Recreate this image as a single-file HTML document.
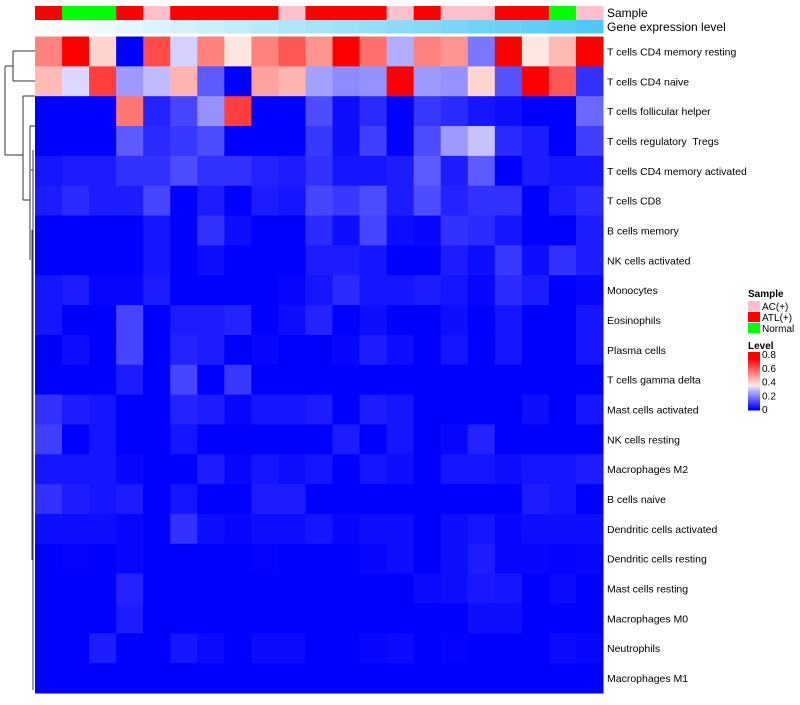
<!DOCTYPE html>
<html><head><meta charset="utf-8"><style>
body{margin:0;background:#fff;font-family:"Liberation Sans",sans-serif}
svg text{font-family:"Liberation Sans",sans-serif;white-space:pre}
</style></head><body>
<svg id="chart" width="800" height="700" xmlns="http://www.w3.org/2000/svg"></svg>
<script>
const rowLabels=["T cells CD4 memory resting","T cells CD4 naive","T cells follicular helper","T cells regulatory  Tregs","T cells CD4 memory activated","T cells CD8","B cells memory","NK cells activated","Monocytes","Eosinophils","Plasma cells","T cells gamma delta","Mast cells activated","NK cells resting","Macrophages M2","B cells naive","Dendritic cells activated","Dendritic cells resting","Mast cells resting","Macrophages M0","Neutrophils","Macrophages M1"];
const sampleGroups=["ATL","Normal","Normal","ATL","AC","ATL","ATL","ATL","ATL","AC","ATL","ATL","ATL","AC","ATL","AC","AC","ATL","ATL","Normal","AC"];
const values=[
[0.51,0.75,0.38,0,0.6,0.3,0.51,0.35,0.51,0.58,0.48,0.75,0.54,0.25,0.51,0.48,0.17,0.75,0.35,0.42,0.75],
[0.42,0.31,0.62,0.22,0.27,0.43,0.13,0,0.46,0.43,0.23,0.2,0.21,0.75,0.22,0.21,0.38,0.12,0.72,0.58,0.07],
[0,0,0,0.53,0.05,0.1,0.21,0.62,0,0,0.11,0.02,0.06,0,0.08,0.06,0.03,0.02,0,0,0.15],
[0,0,0,0.13,0.06,0.08,0.11,0,0,0,0.08,0.02,0.09,0,0.11,0.22,0.28,0.06,0.04,0,0.09],
[0.03,0.04,0.04,0.07,0.07,0.11,0.07,0.07,0.05,0.04,0.07,0.03,0.03,0.04,0.13,0.04,0.13,0,0.04,0.03,0.03],
[0.04,0.06,0.04,0.04,0.1,0,0.04,0,0.04,0.03,0.1,0.08,0.11,0.04,0.11,0.05,0.07,0.07,0,0.04,0.06],
[0,0,0,0,0.03,0,0.07,0.02,0,0,0.06,0.02,0.1,0.02,0.01,0.07,0.06,0.03,0,0,0.04],
[0,0,0,0,0.03,0,0.02,0,0,0,0.04,0.04,0.03,0,0,0.04,0.02,0.08,0.02,0.07,0.04],
[0.03,0.04,0.01,0.01,0.04,0,0,0,0,0.01,0.03,0.06,0.03,0.03,0.04,0.03,0.01,0.06,0.04,0,0.01],
[0.03,0,0,0.1,0,0.04,0.04,0.05,0,0.02,0.05,0,0.02,0,0,0.02,0,0.03,0,0,0.03],
[0,0.02,0,0.1,0,0.05,0.04,0,0.01,0,0,0.01,0.04,0.02,0,0.03,0,0.03,0,0,0.03],
[0,0,0,0.04,0,0.1,0,0.08,0,0,0,0,0,0,0,0,0,0,0,0,0],
[0.07,0.04,0.03,0,0,0.05,0.04,0.01,0.03,0.03,0.04,0,0.04,0.03,0,0,0,0,0.02,0,0.03],
[0.09,0,0.03,0,0,0.03,0,0,0,0,0,0.04,0,0.03,0,0.01,0.05,0,0,0,0],
[0.03,0.03,0.03,0.01,0,0,0.04,0.01,0.03,0.02,0.03,0,0.03,0.02,0,0.03,0.03,0.02,0.03,0.03,0.04],
[0.07,0.04,0.03,0.04,0,0.03,0,0,0.04,0.04,0,0,0,0,0,0,0,0,0.04,0.03,0],
[0.02,0.02,0.02,0.01,0,0.07,0.02,0.01,0.02,0.02,0.03,0.01,0.02,0.02,0,0.02,0.03,0.01,0.02,0.02,0.02],
[0,0.005,0,0.01,0,0,0,0,0.005,0,0,0,0.01,0.02,0,0.02,0.04,0.01,0.01,0.005,0.01],
[0,0,0,0.05,0,0,0,0,0,0,0,0,0,0,0.015,0.02,0.035,0.03,0,0.015,0],
[0,0,0,0.04,0,0,0,0,0,0,0,0,0,0,0,0,0.02,0.02,0,0,0],
[0,0,0.04,0,0,0.03,0.015,0,0.015,0.015,0,0,0.01,0.015,0,0.005,0,0,0,0.015,0.01],
[0,0,0,0,0,0,0,0,0,0,0,0,0,0,0,0,0,0,0,0,0]
];
const legendLabels=["AC(+)","ATL(+)","Normal"];
const levelTicks=[0,0.2,0.4,0.6,0.8];

const NS="http://www.w3.org/2000/svg";
const svg=document.getElementById("chart");
function mk(tag,attrs){const e=document.createElementNS(NS,tag);for(const k in attrs)e.setAttribute(k,attrs[k]);svg.appendChild(e);return e;}
const X0=35,X1=603,Y0=36.5,Y1=693;
const nC=sampleGroups.length,nR=rowLabels.length;
const cw=(X1-X0)/nC,rh=(Y1-Y0)/nR;
const xPos=c=>X0+c*cw, yPos=r=>Y0+r*rh;
function col(v){
  const w=0.34,r=0.72;
  if(v<=w){const t=v/w;return `rgb(${Math.round(242*t)},${Math.round(236*t)},255)`;}
  const t=Math.min(1,(v-w)/(r-w));
  return `rgb(255,${Math.round(236*(1-t))},${Math.round(230*(1-t))})`;
}
const gc={AC:"#FFC0CB",ATL:"#FF0000",Normal:"#00FF00"};
sampleGroups.forEach((g,c)=>{
  const e=mk("rect",{x:xPos(c),y:6,width:cw+0.5,height:14,fill:gc[g]});
  
  
  const t=c/(nC-1);
  const g2=mk("rect",{x:xPos(c),y:20,width:cw+0.5,height:13.5,fill:`rgb(${Math.round(255-176*t)},${Math.round(255-55*t)},${Math.round(255-8*t)})`});
  
  
});
let t1=mk("text",{x:607,y:17,"font-size":12});t1.textContent="Sample";

let t2=mk("text",{x:607,y:31,"font-size":12});t2.textContent="Gene expression level";

values.forEach((row,r)=>{
  row.forEach((v,c)=>{
    const e=mk("rect",{x:xPos(c),y:yPos(r),width:cw+0.5,height:rh+0.5,fill:col(v)});
    
    
  });
  const t=mk("text",{x:607,y:yPos(r)+rh/2+4,"font-size":10.5});
  t.textContent=rowLabels[r];
  
  
});
// dendrogram (approximate)
const dl=[[13,51,13,81],[13,51,35,51],[13,81,35,81],[5,66,13,66],[5,66,5,155],[5,155,23,155],[23,96,23,200],[23,96,35,96],[23,200,30,200],[30,126,30,260],[30,126,35,126],[31,170,33,170],[33,150,33,690],[32,230,32,420],[32,420,32,560]];
dl.forEach(l=>{const e=mk("line",{x1:l[0],y1:l[1],x2:l[2],y2:l[3],stroke:"#333","stroke-width":1});
  });
// legend
let lt=mk("text",{x:748,y:297,"font-size":10,"font-weight":"bold"});lt.textContent="Sample";

const lc=["#FFC0CB","#FF0000","#00FF00"];
legendLabels.forEach((s,i)=>{
  const r=mk("rect",{x:748,y:301+i*11,width:12,height:10,fill:lc[i]});
  
  const t=mk("text",{x:762,y:310+i*11,"font-size":10});t.textContent=s;
  
});
let lv=mk("text",{x:748,y:349,"font-size":10,"font-weight":"bold"});lv.textContent="Level";

const gy0=352,gy1=410;
for(let i=0;i<30;i++){const v=0.8*(1-i/29);
  const e=mk("rect",{x:748,y:gy0+i*(gy1-gy0)/30,width:12,height:(gy1-gy0)/30+0.5,fill:col(v)});
  }
levelTicks.forEach(v=>{
  const y=gy1-(v/0.8)*(gy1-gy0-3)-1;
  const t=mk("text",{x:762,y:y+4,"font-size":10});t.textContent=String(v);
  
});
</script>
</body></html>
